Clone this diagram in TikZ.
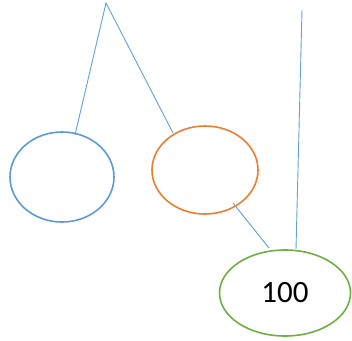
\documentclass[tikz,border=0pt]{standalone}
\usepackage{fontspec}
\setmainfont{Carlito}
\usetikzlibrary{shapes.geometric}
\definecolor{cblue}{RGB}{91,155,213}
\definecolor{corange}{RGB}{237,125,49}
\definecolor{cgreen}{RGB}{112,173,71}
\definecolor{cline}{RGB}{100,160,210}
\begin{document}
\begin{tikzpicture}[x=1pt,y=-1pt,
  oval/.style={ellipse,draw,line width=1.6pt,inner sep=0pt},
  conn/.style={draw=cline,line width=0.9pt}]
\useasboundingbox (0,0) rectangle (352,340);
\node[oval,draw=cblue,minimum width=104pt,minimum height=90pt] (b) at (62,177) {};
\node[oval,draw=corange,minimum width=106pt,minimum height=88pt] (o) at (205,170) {};
\node[oval,draw=cgreen,minimum width=131pt,minimum height=86pt,font=\fontsize{31}{36}\selectfont] (g) at (285,293) {100};
\coordinate (apex) at (106,3);
\coordinate (top) at (302,10);
\coordinate (bEnd) at (75,135);
\coordinate (oEnd) at (173,133);
\coordinate (oOut) at (233,203);
\coordinate (gIn) at (269,248);
\coordinate (gTop) at (296,249);
\draw[conn] (bEnd) -- (apex) -- (oEnd);
\draw[conn] (top) -- (gTop);
\draw[conn] (oOut) -- (gIn);
\end{tikzpicture}
\end{document}
